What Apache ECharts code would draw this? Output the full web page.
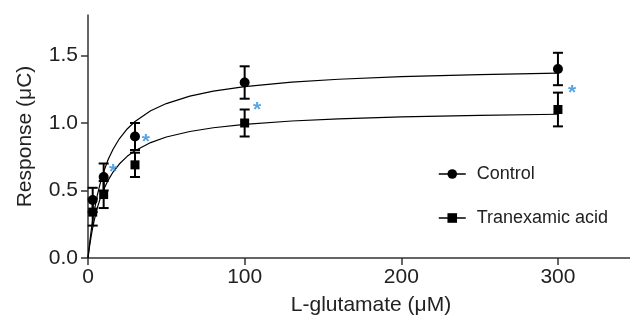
<!DOCTYPE html>
<html>
<head>
<meta charset="utf-8">
<script src="https://cdn.jsdelivr.net/npm/echarts@6/dist/echarts.min.js"></script>
<style>html,body{margin:0;padding:0;background:#fff}#c{width:630px;height:323px}</style>
</head>
<body>
<div id="c"></div>
<script>
// Measured concentrations (µM)
var conc = [3, 10, 30, 100, 300];
// Mean responses (µC)
var controlMean = [0.43, 0.60, 0.90, 1.30, 1.40];
var controlErr = [0.09, 0.10, 0.10, 0.12, 0.12];
var txaMean = [0.34, 0.47, 0.69, 1.00, 1.10];
var txaErr = [0.10, 0.10, 0.09, 0.10, 0.125];
// Fitted curves
var curveX = [0, 0.5, 1, 2, 3, 4, 6, 8, 10, 13, 16, 20, 25, 30, 40, 50, 65, 80, 100, 130, 160, 200, 250, 300];
var controlCurve = [0, 0.055, 0.107, 0.199, 0.280, 0.350, 0.468, 0.562, 0.639, 0.733, 0.806, 0.883, 0.956, 1.011, 1.091, 1.144, 1.199, 1.236, 1.270, 1.303, 1.324, 1.343, 1.359, 1.370];
var txaCurve = [0, 0.045, 0.086, 0.160, 0.224, 0.280, 0.373, 0.448, 0.508, 0.579, 0.637, 0.696, 0.753, 0.794, 0.855, 0.896, 0.937, 0.965, 0.990, 1.015, 1.031, 1.045, 1.057, 1.065];
// Significance asterisks [x, y]
var sigMarks = [[16, 0.667], [37, 0.887], [108, 1.126], [309, 1.25]];
var xTicks = [0, 100, 200, 300];
var yTicks = [0, 0.5, 1.0, 1.5];
var seriesNames = ['Control', 'Tranexamic acid'];

function zip(xs, ys) { return xs.map(function (x, i) { return [x, ys[i]]; }); }
function errData(xs, m, e) { return xs.map(function (x, i) { return [x, m[i] - e[i], m[i] + e[i]]; }); }

function errRender(params, api) {
  var x = api.value(0);
  var lo = api.coord([x, api.value(1)]);
  var hi = api.coord([x, api.value(2)]);
  var w = 5;
  var st = { stroke: '#000', lineWidth: 2 };
  return {
    type: 'group',
    children: [
      { type: 'line', shape: { x1: lo[0], y1: lo[1], x2: hi[0], y2: hi[1] }, style: st },
      { type: 'line', shape: { x1: lo[0] - w, y1: lo[1], x2: lo[0] + w, y2: lo[1] }, style: st },
      { type: 'line', shape: { x1: hi[0] - w, y1: hi[1], x2: hi[0] + w, y2: hi[1] }, style: st }
    ]
  };
}

var font = 'Arial, "Liberation Sans", Helvetica, sans-serif';
var chart = echarts.init(document.getElementById('c'));
chart.setOption({
  animation: false,
  textStyle: { fontFamily: font },
  grid: { left: 88, top: 15, right: 0, bottom: 65, containLabel: false, outerBoundsMode: 'none' },
  legend: {
    orient: 'vertical', left: 433, top: 160,
    itemWidth: 27, itemHeight: 12, itemGap: 26,
    data: seriesNames,
    textStyle: { fontSize: 18, color: '#222', fontFamily: font, padding: [0, 0, 0, 6], lineHeight: 18 },
    lineStyle: { opacity: 1, width: 1.5, color: '#000' },
    itemStyle: { color: '#000' }
  },
  xAxis: {
    type: 'value', min: 0, max: 346, interval: 100,
    name: 'L-glutamate (μM)', nameLocation: 'middle', nameGap: 37,
    nameTextStyle: { fontSize: 21, color: '#222', padding: [0, 0, 0, 24] },
    axisLine: { lineStyle: { color: '#333', width: 1.5 } },
    axisTick: { show: true, length: 7, lineStyle: { color: '#333', width: 1.5 }, customValues: xTicks },
    axisLabel: { fontSize: 21, color: '#222', margin: 9, customValues: xTicks,
      formatter: function (v) { return xTicks.indexOf(v) >= 0 ? String(v) : ''; } },
    splitLine: { show: false }
  },
  yAxis: {
    type: 'value', min: 0, max: 1.8, interval: 0.5,
    name: 'Response (μC)', nameLocation: 'middle', nameGap: 52,
    nameTextStyle: { fontSize: 21, color: '#222', padding: [0, 0, 0, 0] },
    axisLine: { show: true, lineStyle: { color: '#333', width: 1.5 } },
    axisTick: { show: true, length: 7, lineStyle: { color: '#333', width: 1.5 }, customValues: yTicks },
    axisLabel: { fontSize: 21, color: '#222', margin: 10, customValues: yTicks,
      formatter: function (v) { return yTicks.indexOf(v) >= 0 ? v.toFixed(1) : ''; } },
    splitLine: { show: false }
  },
  series: [
    { name: 'controlFit', type: 'line', data: zip(curveX, controlCurve), showSymbol: false, symbol: 'none',
      smooth: false, lineStyle: { color: '#000', width: 1.2 }, silent: true, z: 2 },
    { name: 'txaFit', type: 'line', data: zip(curveX, txaCurve), showSymbol: false, symbol: 'none',
      smooth: false, lineStyle: { color: '#000', width: 1.2 }, silent: true, z: 2 },
    { name: 'controlErr', type: 'custom', renderItem: errRender, data: errData(conc, controlMean, controlErr), z: 3 },
    { name: 'txaErr', type: 'custom', renderItem: errRender, data: errData(conc, txaMean, txaErr), z: 3 },
    { name: seriesNames[0], type: 'line', data: zip(conc, controlMean), symbol: 'circle', symbolSize: 10,
      itemStyle: { color: '#000' }, lineStyle: { width: 0, opacity: 0 }, z: 4 },
    { name: seriesNames[1], type: 'line', data: zip(conc, txaMean), symbol: 'rect', symbolSize: 9,
      itemStyle: { color: '#000' }, lineStyle: { width: 0, opacity: 0 }, z: 4 },
    { name: 'sig', type: 'scatter', data: sigMarks, symbolSize: 2, itemStyle: { color: 'rgba(255,255,255,0)' },
      label: { show: true, position: 'inside', formatter: '*', fontSize: 21, fontWeight: 'bold',
        color: '#2b8fe0', offset: [0, 4] }, z: 5 }
  ]
});
</script>
</body>
</html>
